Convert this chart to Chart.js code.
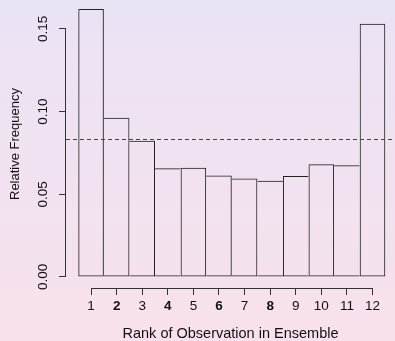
<!DOCTYPE html>
<html>
<head>
<meta charset="utf-8">
<script src="https://cdn.jsdelivr.net/npm/chart.js@4/dist/chart.umd.min.js"></script>
<style>
  html, body { margin: 0; padding: 0; }
  body {
    width: 395px;
    height: 341px;
    overflow: hidden;
    background: linear-gradient(to bottom, #eae3f5, #f8e1ec);
  }
  #wrap { width: 395px; height: 341px; }
</style>
</head>
<body>
<div id="wrap"><canvas id="rankChart"></canvas></div>
<script>
// Rank histogram data
const ranks = [1, 2, 3, 4, 5, 6, 7, 8, 9, 10, 11, 12];
const freqs = [0.162, 0.0963, 0.0824, 0.0657, 0.0661, 0.0613, 0.0595, 0.0581, 0.0611, 0.0682, 0.0676, 0.1532];
const yTicks = [0, 0.05, 0.10, 0.15];
const boldRanks = [2, 4, 6, 8];
const expected = 1 / ranks.length;

const lineCol = '#333';
const textCol = '#111';

// shared bar edges: only the taller neighbour draws it, so lines stay 1px
function barBorders(c) {
  const i = c.dataIndex;
  const h = freqs[i];
  const left = i === 0 || h >= freqs[i - 1] ? 1 : 0;
  const right = i === freqs.length - 1 || h > freqs[i + 1] ? 1 : 0;
  return { left, right, top: 1, bottom: 1 };
}

// R style axes: line only between first and last tick, plus the dashed uniform line
const rAxes = {
  id: 'rAxes',
  afterDraw(chart) {
    const { ctx, chartArea, scales: { x, y } } = chart;
    ctx.save();
    ctx.strokeStyle = lineCol;
    ctx.lineWidth = 1;
    ctx.beginPath();
    const xb = Math.round(x.top) + 0.5;
    ctx.moveTo(x.getPixelForValue(ranks[0]), xb);
    ctx.lineTo(x.getPixelForValue(ranks[ranks.length - 1]), xb);
    const yl = Math.round(y.right) - 0.5;
    ctx.moveTo(yl, y.getPixelForValue(yTicks[0]));
    ctx.lineTo(yl, y.getPixelForValue(yTicks[yTicks.length - 1]));
    ctx.stroke();

    ctx.setLineDash([4, 3]);
    ctx.strokeStyle = '#444';
    const ye = Math.round(y.getPixelForValue(expected)) + 0.5;
    ctx.beginPath();
    ctx.moveTo(chartArea.left, ye);
    ctx.lineTo(chartArea.right, ye);
    ctx.stroke();
    ctx.restore();
  }
};

const ctx = document.getElementById('rankChart').getContext('2d');
new Chart(ctx, {
  type: 'bar',
  data: {
    datasets: [{
      data: ranks.map((r, i) => ({ x: r, y: freqs[i] })),
      backgroundColor: 'rgba(0,0,0,0)',
      borderColor: '#222',
      borderWidth: barBorders,
      borderSkipped: false,
      inflateAmount: 0,
      barPercentage: 1,
      categoryPercentage: 1
    }]
  },
  options: {
    responsive: true,
    maintainAspectRatio: false,
    animation: false,
    layout: { padding: 0 },
    plugins: {
      legend: { display: false },
      tooltip: { enabled: false }
    },
    scales: {
      x: {
        type: 'linear',
        offset: false,
        min: 0.02,
        max: 12.88,
        afterBuildTicks: (s) => { s.ticks = ranks.map(v => ({ value: v })); },
        afterFit: (s) => { s.height = 53; s.paddingLeft = 0; s.paddingRight = 0; },
        border: { display: false },
        grid: { offset: false, drawOnChartArea: false, drawTicks: true, tickLength: 7, color: lineCol },
        ticks: {
          padding: 3.5,
          color: textCol,
          autoSkip: false,
          maxRotation: 0,
          font: (c) => ({
            family: 'Liberation Sans, Arial, sans-serif',
            size: 13.5,
            weight: c.tick && boldRanks.includes(c.tick.value) ? 'bold' : 'normal'
          }),
          callback: (v) => String(v)
        },
        title: {
          display: true,
          text: 'Rank of Observation in Ensemble',
          color: textCol,
          font: { family: 'Liberation Sans, Arial, sans-serif', size: 14.5, lineHeight: 1 },
          padding: { top: 0, bottom: 0 }
        }
      },
      y: {
        min: -0.0067,
        max: 0.1675,
        afterBuildTicks: (s) => { s.ticks = yTicks.map(v => ({ value: v })); },
        afterFit: (s) => { s.width = 66; s.paddingTop = 0; s.paddingBottom = 0; },
        border: { display: false },
        grid: { drawOnChartArea: false, drawTicks: true, tickLength: 7, color: lineCol },
        ticks: {
          padding: 2.5,
          color: textCol,
          minRotation: 90,
          maxRotation: 90,
          crossAlign: 'center',
          font: { family: 'Liberation Sans, Arial, sans-serif', size: 13.5 },
          callback: (v) => v.toFixed(2)
        },
        title: {
          display: true,
          text: 'Relative Frequency',
          color: textCol,
          font: { family: 'Liberation Sans, Arial, sans-serif', size: 13, lineHeight: 1.2 },
          padding: { top: 7.5, bottom: 0 }
        }
      }
    }
  },
  plugins: [rAxes]
});
</script>
</body>
</html>
